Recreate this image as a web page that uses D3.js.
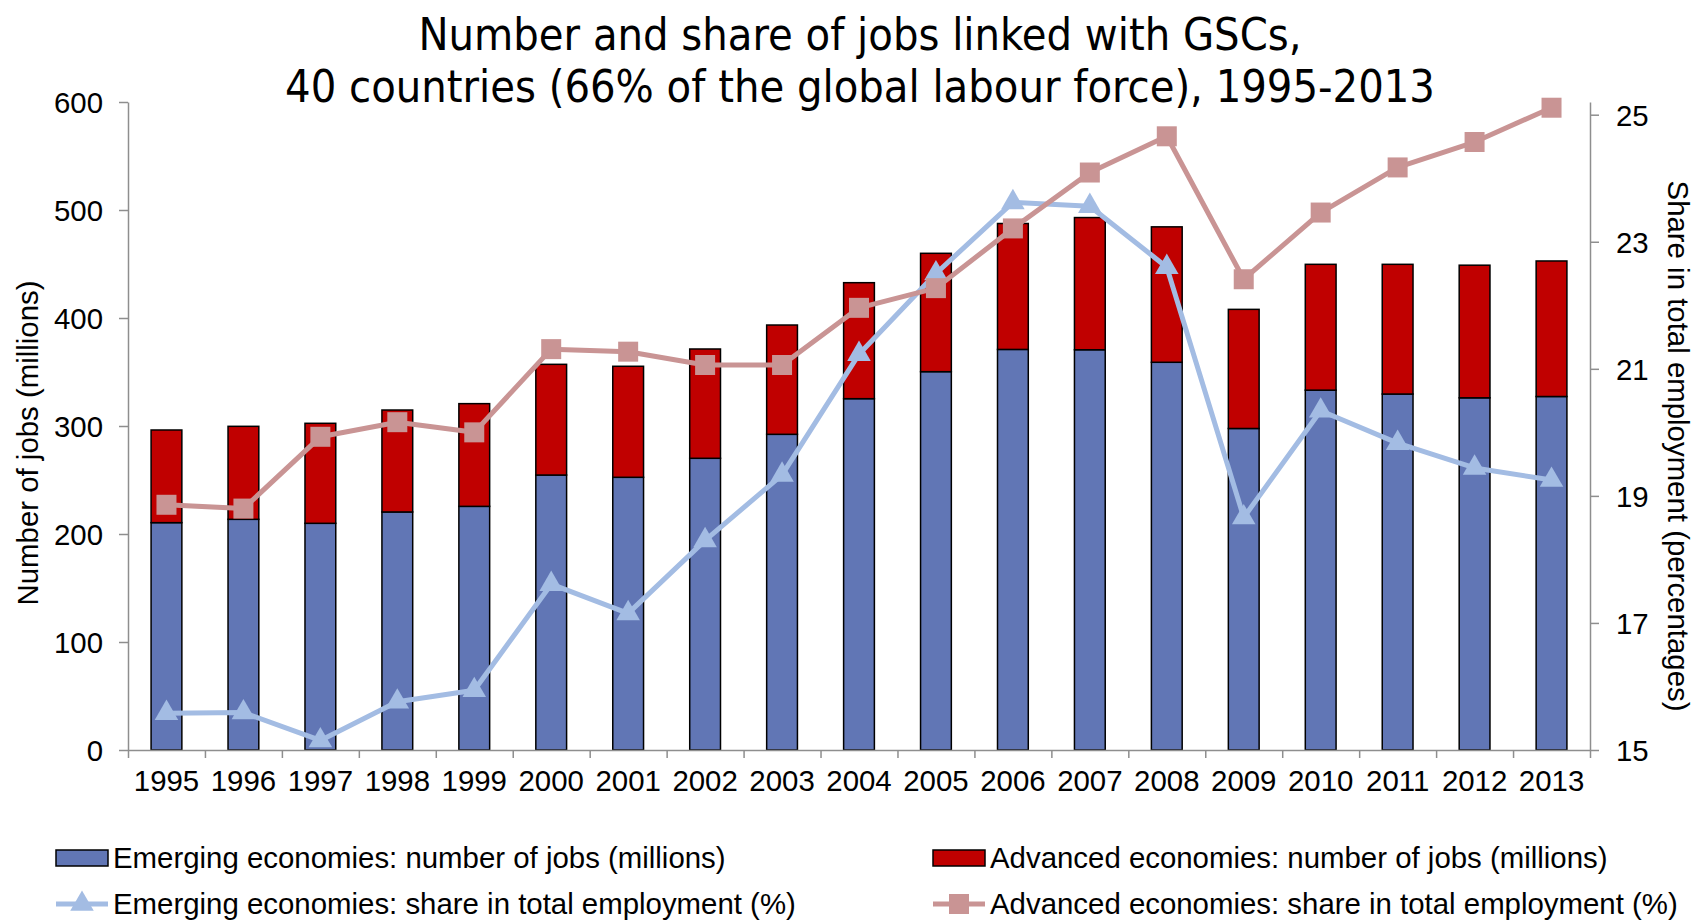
<!DOCTYPE html>
<html>
<head>
<meta charset="utf-8">
<script src="https://cdn.jsdelivr.net/npm/d3@7"></script>
<style>
  html, body { margin: 0; padding: 0; background: #ffffff; }
  svg { display: block; }
  text { font-family: "Liberation Sans", Arial, Helvetica, sans-serif; fill: #000; }
</style>
</head>
<body>
<svg id="chart" width="1700" height="922"></svg>
<script>
// Jobs linked with global supply chains (GSCs), 40 countries, 1995-2013
const years = ["1995","1996","1997","1998","1999","2000","2001","2002","2003","2004",
               "2005","2006","2007","2008","2009","2010","2011","2012","2013"];

// number of jobs, millions
const emergingJobs = [210.5, 213.6, 209.9, 220.4, 225.6, 254.6, 252.5, 270.1, 292.3, 325.3,
                      350.3, 370.9, 370.6, 359.0, 297.7, 333.2, 329.6, 326.1, 327.3];
const advancedJobs = [85.8, 86.1, 92.6, 94.4, 95.1, 102.5, 102.8, 101.2, 101.2, 107.4,
                      109.6, 116.6, 122.4, 125.4, 110.3, 116.5, 120.1, 122.8, 125.5];

// share in total employment, %
const emergingShare = [15.58, 15.59, 15.15, 15.76, 15.94, 17.61, 17.15, 18.30, 19.33, 21.23,
                       22.50, 23.62, 23.56, 22.60, 18.66, 20.34, 19.83, 19.44, 19.25];
const advancedShare = [18.86, 18.80, 19.93, 20.16, 20.00, 21.31, 21.27, 21.06, 21.06, 21.96,
                       22.27, 23.21, 24.09, 24.66, 22.41, 23.46, 24.17, 24.57, 25.11];

const jobTicks = [0, 100, 200, 300, 400, 500, 600];
const shareTicks = [15, 17, 19, 21, 23, 25];

const titleLines = ["Number and share of jobs linked with GSCs,",
                    "40 countries (66% of the global labour force), 1995-2013"];
const leftAxisTitle = "Number of jobs (millions)";
const rightAxisTitle = "Share in total employment (percentages)";
const legendLabels = ["Emerging economies: number of jobs (millions)",
                      "Advanced economies: number of jobs (millions)",
                      "Emerging economies: share in total employment (%)",
                      "Advanced economies: share in total employment (%)"];

const colors = {
  emergingBar: "#6176B5",
  advancedBar: "#C00000",
  emergingLine: "#A3BCE3",
  advancedLine: "#C99494",
  axis: "#8E8E8E"
};

const svg = d3.select("#chart");
const plot = { left: 128, right: 1590, top: 102, bottom: 750 };
const fontSize = 29.4;

const x = d3.scaleBand().domain(years).range([plot.left, plot.right])
  .paddingInner(0.6).paddingOuter(0.3);
const xEdges = d3.scaleLinear().domain([0, years.length]).range([plot.left, plot.right]);
const yJobs = d3.scaleLinear().domain([0, 600]).range([plot.bottom, plot.top]);
const yShare = d3.scaleLinear().domain([15, 25.2]).range([plot.bottom, plot.top]);

// ---- Title ----
const title = svg.append("g").attr("class", "title");
const titleEls = titleLines.map((t, i) =>
  title.append("text")
    .attr("x", 860).attr("y", 50 + i * 52)
    .attr("text-anchor", "middle")
    .style("font-family", "'DejaVu Sans Condensed', 'DejaVu Sans', Verdana, sans-serif")
    .style("font-size", "42px")
    .text(t));
// size the title so the second line spans its measured width
const w2 = titleEls[1].node().getComputedTextLength();
const titleSize = 42 * 1150 / w2;
titleEls.forEach(el => el.style("font-size", titleSize + "px"));

// ---- Stacked bars ----
const bars = svg.append("g").attr("class", "bars");
years.forEach((yr, i) => {
  const e = emergingJobs[i], a = advancedJobs[i];
  bars.append("rect")
    .attr("x", x(yr)).attr("width", x.bandwidth())
    .attr("y", yJobs(e)).attr("height", yJobs(0) - yJobs(e))
    .attr("fill", colors.emergingBar).attr("stroke", "#000").attr("stroke-width", 1.5);
  bars.append("rect")
    .attr("x", x(yr)).attr("width", x.bandwidth())
    .attr("y", yJobs(e + a)).attr("height", yJobs(e) - yJobs(e + a))
    .attr("fill", colors.advancedBar).attr("stroke", "#000").attr("stroke-width", 1.5);
});

// ---- Axes ----
function styleAxis(g) {
  g.selectAll("path.domain").attr("stroke", colors.axis).attr("stroke-width", 1.5);
  g.selectAll(".tick line").attr("stroke", colors.axis).attr("stroke-width", 1.5);
  g.selectAll(".tick text").style("font-size", fontSize + "px")
    .style("font-family", "'Liberation Sans', Arial, sans-serif").attr("fill", "#000");
}

svg.append("g").attr("transform", `translate(${plot.left},0)`)
  .call(d3.axisLeft(yJobs).tickValues(jobTicks).tickSize(9).tickSizeOuter(0).tickPadding(16))
  .call(styleAxis)
  .call(g => g.selectAll(".tick text").attr("dy", "0.36em"));

svg.append("g").attr("transform", `translate(${plot.right},0)`)
  .call(d3.axisRight(yShare).tickValues(shareTicks).tickSize(9).tickSizeOuter(0).tickPadding(17))
  .call(styleAxis)
  .call(g => g.selectAll(".tick text").attr("dy", "0.36em"));

// category boundary ticks
svg.append("g").attr("transform", `translate(0,${plot.bottom})`)
  .call(d3.axisBottom(xEdges).tickValues(d3.range(0, years.length + 1))
    .tickFormat("").tickSize(8).tickSizeOuter(0))
  .call(styleAxis);

// category labels
svg.append("g").attr("transform", `translate(0,${plot.bottom})`)
  .call(d3.axisBottom(x).tickSize(0).tickPadding(20))
  .call(styleAxis)
  .call(g => g.select("path.domain").remove());

// ---- Axis titles ----
svg.append("text")
  .attr("transform", `translate(28,443) rotate(-90)`)
  .attr("text-anchor", "middle").attr("dy", "0.35em")
  .style("font-size", fontSize + "px")
  .text(leftAxisTitle);

svg.append("text")
  .attr("transform", `translate(1678,446) rotate(90)`)
  .attr("text-anchor", "middle").attr("dy", "0.35em")
  .style("font-size", fontSize + "px")
  .text(rightAxisTitle);

// ---- Share lines ----
const cx = yr => x(yr) + x.bandwidth() / 2;
const triangle = d3.symbol().type(d3.symbolTriangle).size(240);
const square = d3.symbol().type(d3.symbolSquare).size(400);

function drawShare(values, color, symbol) {
  const g = svg.append("g");
  g.append("path")
    .datum(values)
    .attr("fill", "none").attr("stroke", color).attr("stroke-width", 5)
    .attr("stroke-linejoin", "round")
    .attr("d", d3.line().x((d, i) => cx(years[i])).y(d => yShare(d)));
  g.selectAll("path.marker").data(values).join("path")
    .attr("class", "marker")
    .attr("transform", (d, i) => `translate(${cx(years[i])},${yShare(d)})`)
    .attr("d", symbol())
    .attr("fill", color);
}
drawShare(emergingShare, colors.emergingLine, triangle);
drawShare(advancedShare, colors.advancedLine, square);

// ---- Legend ----
const legend = svg.append("g").attr("class", "legend");
const legendItems = [
  { x: 56,  y: 858, kind: "bar",  color: colors.emergingBar, label: legendLabels[0] },
  { x: 933, y: 858, kind: "bar",  color: colors.advancedBar, label: legendLabels[1] },
  { x: 56,  y: 904, kind: "line", color: colors.emergingLine, sym: triangle, label: legendLabels[2] },
  { x: 933, y: 904, kind: "line", color: colors.advancedLine, sym: square, label: legendLabels[3] }
];
legendItems.forEach(it => {
  if (it.kind === "bar") {
    legend.append("rect")
      .attr("x", it.x).attr("y", it.y - 8).attr("width", 52).attr("height", 16)
      .attr("fill", it.color).attr("stroke", "#000").attr("stroke-width", 1.5);
  } else {
    legend.append("line")
      .attr("x1", it.x).attr("x2", it.x + 52).attr("y1", it.y).attr("y2", it.y)
      .attr("stroke", it.color).attr("stroke-width", 5);
    legend.append("path")
      .attr("transform", `translate(${it.x + 26},${it.y})`)
      .attr("d", it.sym()).attr("fill", it.color);
  }
  legend.append("text")
    .attr("x", it.x + 57).attr("y", it.y).attr("dy", "0.35em")
    .style("font-size", fontSize + "px")
    .text(it.label);
});
</script>
</body>
</html>
